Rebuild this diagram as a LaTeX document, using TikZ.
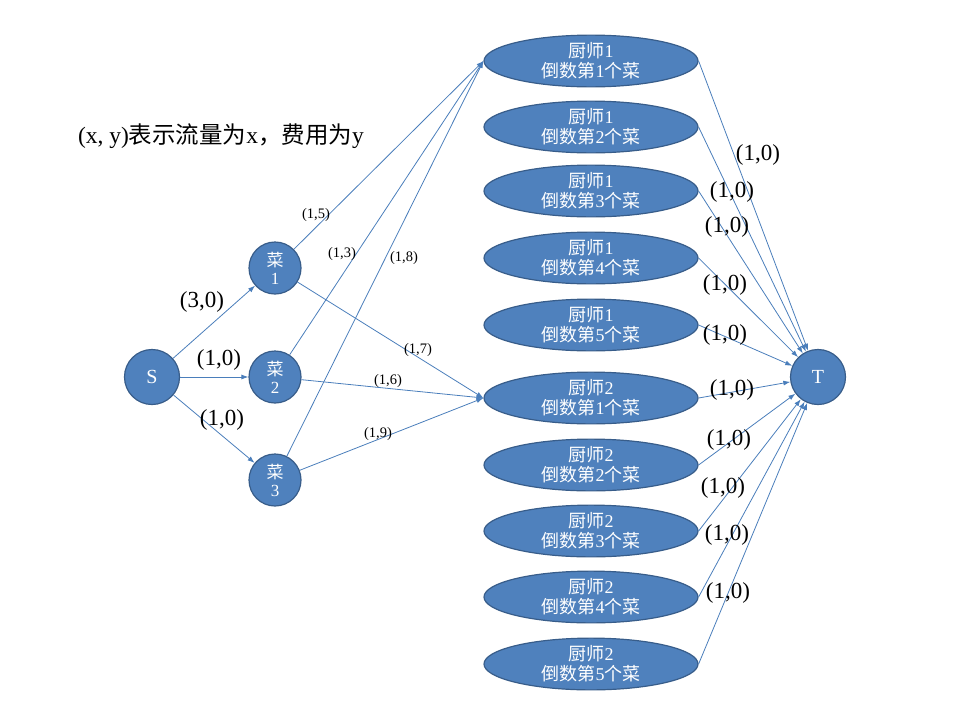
\documentclass[tikz,border=0pt]{standalone}
\usepackage{fontspec}
\setmainfont{Liberation Serif}
\newfontfamily\cjk{Noto Sans CJK SC}
\usepackage{tikz}
\usetikzlibrary{arrows.meta, shapes.geometric}

\definecolor{nodefill}{RGB}{79,129,189}
\definecolor{nodeborder}{RGB}{56,93,138}
\definecolor{flowcol}{RGB}{74,126,187}

\newcommand{\cooktext}[2]{{\cjk 厨师}#1\\{\cjk 倒数第}#2{\cjk 个菜}}

\tikzset{
  roundnode/.style={circle, draw=nodeborder, fill=nodefill, line width=1.2pt,
    inner sep=0pt, text=white, align=center},
  endnode/.style={roundnode, minimum size=55pt, font=\fontsize{20}{24}\selectfont},
  dishnode/.style={roundnode, minimum size=52pt, font=\fontsize{17}{18}\selectfont},
  cooknode/.style={ellipse, draw=nodeborder, fill=nodefill, line width=1.2pt,
    minimum width=214pt, minimum height=49pt, inner sep=0pt, text=white,
    align=center, font=\fontsize{18}{20}\selectfont},
  flow/.style={->, draw=flowcol, line width=0.8pt},
  biglabel/.style={font=\fontsize{23}{26}\selectfont, inner sep=0pt},
  smalllabel/.style={font=\fontsize{14.5}{16}\selectfont, inner sep=0pt}
}

\begin{document}
\begin{tikzpicture}[x=1pt, y=-1pt, >={Latex[length=7pt, width=5pt]}]
  \useasboundingbox (0,0) rectangle (960,720);

  \node[font=\fontsize{23.5}{26}\selectfont, inner sep=0pt] (legend) at (221,136)
    {(x, y){\cjk 表示流量为}x{\cjk ，费用为}y};

  \node[endnode] (S) at (152,377) {S};
  \node[endnode] (T) at (818,377) {T};

  \foreach \i/\y in {1/268, 2/377, 3/480}
    \node[dishnode] (c\i) at (275,\y) {{\cjk 菜}\\\i};

  % chef 1, chef 2
  \foreach \k/\y in {1/61, 2/127, 3/191, 4/258, 5/325}
    \node[cooknode] (a\k) at (591,\y) {\cooktext{1}{\k}};
  \foreach \k/\y in {1/398, 2/465, 3/531, 4/597, 5/664}
    \node[cooknode] (b\k) at (591,\y) {\cooktext{2}{\k}};

  \foreach \i in {1,2,3}
    \draw[flow] (S) -- (c\i);
  \foreach \i in {1,2,3} {
    \draw[flow] (c\i) -- (a1.west);
    \draw[flow] (c\i) -- (b1.west);
  }
  \foreach \k in {1,...,5} {
    \draw[flow] (a\k.east) -- (T);
    \draw[flow] (b\k.east) -- (T);
  }

  % labels
  \foreach \n/\x/\y/\t in {s1/202/302/{(3,0)}, s2/219/360/{(1,0)}, s3/222/420/{(1,0)},
      t1/758/155/{(1,0)}, t2/732/192/{(1,0)}, t3/727/227/{(1,0)}, t4/725/285/{(1,0)},
      t5/725/335/{(1,0)}, t6/732/390/{(1,0)}, t7/729/440/{(1,0)}, t8/723/488/{(1,0)},
      t9/727/535/{(1,0)}, t10/728/593/{(1,0)}}
    \node[biglabel] (l\n) at (\x,\y) {\t};
  \foreach \n/\x/\y/\t in {15/316/215/{(1,5)}, 23/342/254/{(1,3)}, 38/404/258/{(1,8)},
      17/418/350/{(1,7)}, 26/388/381/{(1,6)}, 39/378/434/{(1,9)}}
    \node[smalllabel] (m\n) at (\x,\y) {\t};

\end{tikzpicture}
\end{document}
